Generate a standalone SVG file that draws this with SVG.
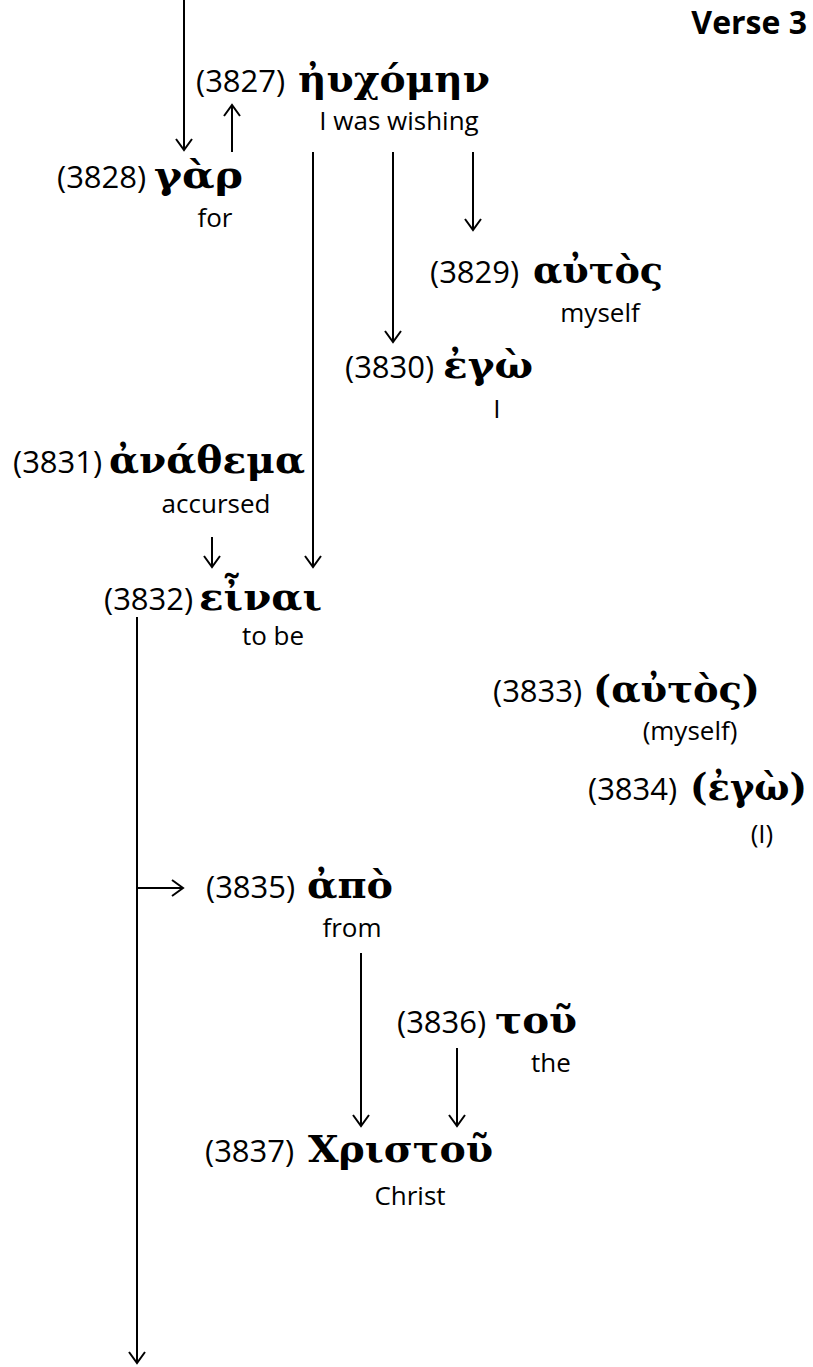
<svg xmlns="http://www.w3.org/2000/svg" width="813" height="1367" viewBox="0 0 813 1367">
<style>
.num{font-family:"Open Sans","Liberation Sans",sans-serif;font-size:31px;fill:#000}
.gk{font-family:"DejaVu Serif","Liberation Serif",serif;font-weight:bold;font-size:38px;fill:#000}
.gl{font-family:"Open Sans","Liberation Sans",sans-serif;font-size:26px;fill:#000;text-anchor:middle}
.ttl{font-family:"Open Sans","Liberation Sans",sans-serif;font-size:32px;font-weight:bold;fill:#000;text-anchor:end}
.c line{stroke:#000;stroke-width:2;fill:none;marker-end:url(#ah)}
</style>
<defs>
<marker id="ah" markerUnits="userSpaceOnUse" viewBox="0 0 14 18" refX="12" refY="9" markerWidth="14" markerHeight="18" orient="auto">
<path d="M1,1 L12,9 L1,17" fill="none" stroke="#000" stroke-width="2"/>
</marker>
</defs>
<rect width="813" height="1367" fill="#fff"/>
<text class="ttl" x="807" y="34">Verse 3</text>
<g class="c" id="connectors">
<line x1="184" y1="0" x2="184" y2="150"/>
<line x1="232" y1="152" x2="232" y2="105"/>
<line x1="313" y1="152" x2="313" y2="567"/>
<line x1="393" y1="152" x2="393" y2="342"/>
<line x1="473" y1="152" x2="473" y2="230"/>
<line x1="212" y1="537" x2="212" y2="567"/>
<line x1="137" y1="617" x2="137" y2="1363"/>
<line x1="137" y1="888" x2="183" y2="888"/>
<line x1="361" y1="953" x2="361" y2="1126"/>
<line x1="457" y1="1048" x2="457" y2="1126"/>
</g>
<g id="n3827"><text class="num" x="196" y="92">(3827)</text><text class="gk" x="298" y="92" textLength="192" lengthAdjust="spacingAndGlyphs">ἠυχόμην</text><text class="gl" x="399" y="130">I was wishing</text></g>
<g id="n3828"><text class="num" x="57" y="188">(3828)</text><text class="gk" x="154" y="188" textLength="89" lengthAdjust="spacingAndGlyphs">γὰρ</text><text class="gl" x="215" y="227">for</text></g>
<g id="n3829"><text class="num" x="430" y="283">(3829)</text><text class="gk" x="533" y="283" textLength="130" lengthAdjust="spacingAndGlyphs">αὐτὸς</text><text class="gl" x="600" y="322">myself</text></g>
<g id="n3830"><text class="num" x="345" y="378">(3830)</text><text class="gk" x="443" y="378" textLength="90" lengthAdjust="spacingAndGlyphs">ἐγὼ</text><text class="gl" x="497" y="418">I</text></g>
<g id="n3831"><text class="num" x="13" y="473">(3831)</text><text class="gk" x="109" y="473" textLength="196" lengthAdjust="spacingAndGlyphs">ἀνάθεμα</text><text class="gl" x="216" y="513">accursed</text></g>
<g id="n3832"><text class="num" x="104" y="610">(3832)</text><text class="gk" x="199" y="610" textLength="123" lengthAdjust="spacingAndGlyphs">εἶναι</text><text class="gl" x="273" y="645">to be</text></g>
<g id="n3833"><text class="num" x="493" y="702">(3833)</text><text class="gk" x="593" y="702" textLength="167" lengthAdjust="spacingAndGlyphs">(αὐτὸς)</text><text class="gl" x="690" y="740">(myself)</text></g>
<g id="n3834"><text class="num" x="588" y="800">(3834)</text><text class="gk" x="690" y="800" textLength="117" lengthAdjust="spacingAndGlyphs">(ἐγὼ)</text><text class="gl" x="762" y="843">(I)</text></g>
<g id="n3835"><text class="num" x="206" y="898">(3835)</text><text class="gk" x="307" y="898" textLength="86" lengthAdjust="spacingAndGlyphs">ἀπὸ</text><text class="gl" x="352" y="937">from</text></g>
<g id="n3836"><text class="num" x="397" y="1033">(3836)</text><text class="gk" x="495" y="1033" textLength="82" lengthAdjust="spacingAndGlyphs">τοῦ</text><text class="gl" x="551" y="1072">the</text></g>
<g id="n3837"><text class="num" x="205" y="1162">(3837)</text><text class="gk" x="308" y="1162" textLength="185" lengthAdjust="spacingAndGlyphs">Χριστοῦ</text><text class="gl" x="410" y="1205">Christ</text></g>
</svg>
